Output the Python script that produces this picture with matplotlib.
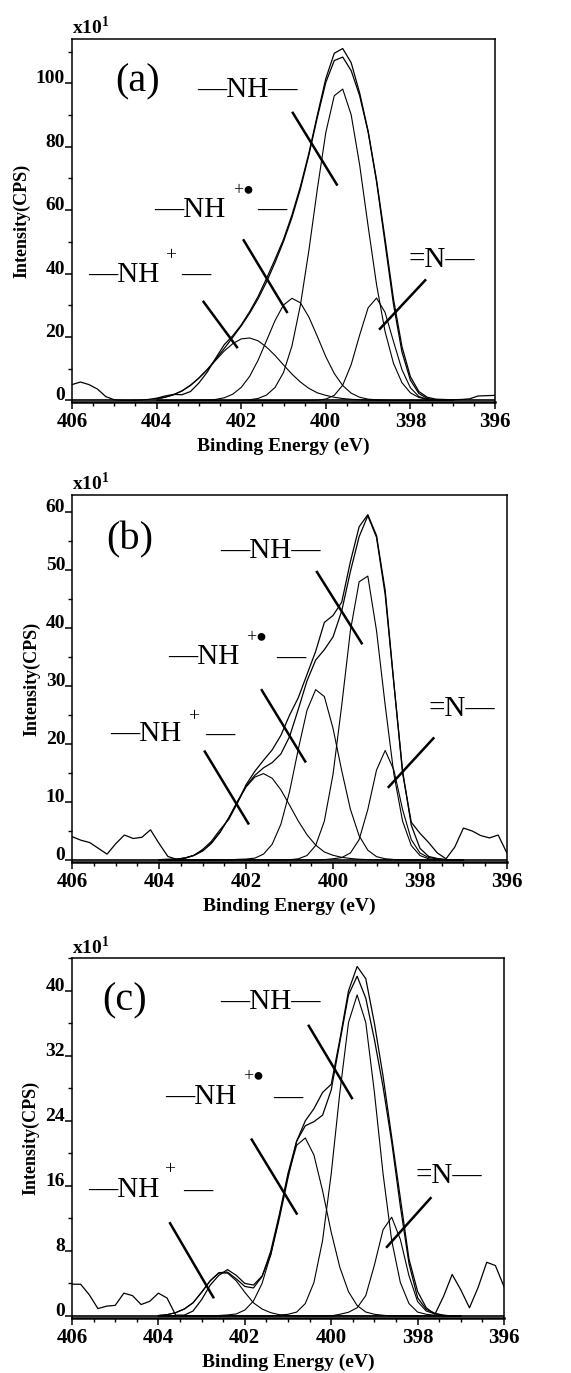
import numpy as np
import matplotlib.pyplot as plt
from matplotlib.ticker import MultipleLocator

plt.rcParams['font.family'] = ['Liberation Serif', 'DejaVu Sans']
plt.rcParams['mathtext.fontset'] = 'custom'
plt.rcParams['mathtext.rm'] = 'Liberation Serif'
plt.rcParams['mathtext.bf'] = 'Liberation Serif:bold'

# binding energy grids (eV)
energy = np.round(np.arange(404.0, 396.9, -0.2), 1)      # fitted curves
energy_raw = np.round(np.arange(406.0, 395.9, -0.2), 1)  # measured spectra

# ---- panel (a) ----
raw_a = [5.0, 5.8, 5.0, 3.6, 1.2, 0.2, 0.0, 0.0, 0.1, 0.3,
         0.7, 1.4, 1.9, 1.8, 2.8, 5.5, 9.0, 13.4, 17.6, 20.4,
         23.8, 28.0, 32.8, 38.5, 44.5, 50.8, 58.5, 67.5, 78.0, 90.0,
         101.5, 109.5, 111.0, 106.5, 97.0, 85.0, 69.5, 51.0, 32.0, 17.0,
         7.5, 2.8, 1.0, 0.4, 0.3, 0.2, 0.3, 0.5, 1.4, 1.5, 1.6]
fit_a = [0.5, 1.0, 1.8, 3.0, 4.8, 7.1, 9.8, 13.0, 16.4, 19.9,
         23.5, 27.5, 32.1, 37.4, 43.5, 50.1, 57.7, 66.7, 77.4, 89.3,
         100.3, 107.2, 108.3, 104.0, 96.1, 84.7, 69.0, 49.7, 30.3, 15.3,
         6.4, 2.2, 0.6, 0.2, 0.05, 0]
nh_plus_a = [0.5, 1.0, 1.8, 3.0, 4.7, 7.0, 9.7, 12.7, 15.6, 17.9,
             19.4, 19.7, 18.8, 16.8, 14.2, 11.2, 8.3, 5.8, 3.8, 2.4,
             1.6, 1.0, 0.6, 0.35, 0.2, 0.1, 0.05, 0, 0, 0,
             0, 0, 0, 0, 0, 0]
nh_rad_a = [0, 0, 0, 0, 0.05, 0.1, 0.15, 0.32, 0.84, 1.96,
            4.1, 7.6, 12.7, 18.9, 25.2, 30.1, 32.2, 30.8, 26.3, 20.2,
            13.8, 8.5, 4.7, 2.3, 1.0, 0.4, 0.2, 0.1, 0, 0,
            0, 0, 0, 0, 0, 0]
nh_a = [0, 0, 0, 0, 0, 0, 0, 0, 0, 0,
        0.06, 0.21, 0.63, 1.7, 4.1, 8.8, 17.2, 30.1, 47.3, 66.7,
        84.5, 96.1, 98.2, 90.1, 74.3, 55.0, 36.5, 21.8, 11.7, 5.6,
        2.4, 0.94, 0.33, 0.1, 0, 0]
imine_a = [0, 0, 0, 0, 0, 0, 0, 0, 0, 0,
           0, 0, 0, 0, 0, 0, 0, 0, 0, 0.08,
           0.42, 1.6, 4.8, 11.3, 20.6, 29.2, 32.3, 27.8, 18.6, 9.7,
           4.0, 1.25, 0.31, 0.06, 0, 0]

# ---- panel (b) ----
raw_b = [4.0, 3.4, 3.0, 2.0, 1.0, 2.8, 4.3, 3.7, 3.9, 5.2,
         2.8, 0.6, 0.1, 0.3, 0.8, 1.8, 3.2, 5.2, 7.0, 9.8,
         13.0, 15.3, 17.2, 19.0, 21.5, 25.0, 28.0, 32.0, 36.0, 41.0,
         42.2, 44.5, 51.5, 57.5, 59.6, 56.0, 46.5, 30.5, 15.0, 6.5,
         4.6, 3.0, 1.2, 0.2, 2.2, 5.5, 5.0, 4.2, 3.8, 4.3, 1.2]
fit_b = [0.05, 0.1, 0.14, 0.35, 0.78, 1.56, 2.87, 4.78, 7.25, 10.1,
         12.75, 14.6, 15.9, 16.8, 18.3, 21.3, 26.0, 30.9, 34.5, 36.3,
         38.5, 43.0, 49.8, 55.8, 59.4, 55.7, 45.8, 30.4, 15.4, 6.0,
         2.0, 0.6, 0.24, 0.05, 0, 0]
nh_plus_b = [0.05, 0.1, 0.14, 0.35, 0.78, 1.56, 2.87, 4.78, 7.25, 10.0,
             12.6, 14.3, 14.9, 14.1, 12.1, 9.45, 6.72, 4.35, 2.56, 1.37,
             0.8, 0.45, 0.25, 0.12, 0.05, 0, 0, 0, 0, 0,
             0, 0, 0, 0, 0, 0]
nh_rad_b = [0, 0, 0, 0, 0, 0, 0, 0, 0, 0.1,
            0.15, 0.31, 1.0, 2.71, 6.17, 11.8, 19.1, 25.8, 29.4, 28.2,
            22.7, 15.4, 8.73, 4.17, 1.68, 0.57, 0.2, 0.08, 0, 0,
            0, 0, 0, 0, 0, 0]
nh_b = [0, 0, 0, 0, 0, 0, 0, 0, 0, 0,
        0, 0, 0, 0, 0, 0.04, 0.19, 0.76, 2.49, 6.7,
        14.8, 26.7, 39.6, 48.0, 49.0, 39.6, 26.7, 14.8, 6.7, 2.49,
        0.76, 0.19, 0.04, 0, 0, 0]
imine_b = [0, 0, 0, 0, 0, 0, 0, 0, 0, 0,
           0, 0, 0, 0, 0, 0, 0, 0, 0, 0.05,
           0.2, 0.4, 1.2, 3.5, 8.7, 15.5, 18.9, 15.5, 8.7, 3.5,
           1.2, 0.4, 0.2, 0.05, 0, 0]

# ---- panel (c) ----
raw_c = [3.9, 3.9, 2.6, 0.9, 1.2, 1.3, 2.8, 2.5, 1.4, 1.8,
         2.8, 2.2, 0.1, 0.1, 0.6, 2.0, 3.8, 5.0, 5.7, 5.0,
         4.0, 3.8, 4.9, 7.5, 12.0, 17.0, 21.5, 24.0, 25.5, 27.5,
         28.5, 34.0, 40.0, 43.0, 41.5, 36.0, 29.5, 22.0, 14.5, 7.0,
         3.0, 1.0, 0.2, 2.4, 5.1, 3.2, 1.0, 3.5, 6.6, 6.2, 3.6]
fit_c = [0.05, 0.15, 0.4, 0.85, 1.61, 2.91, 4.33, 5.32, 5.39, 4.57,
         3.63, 3.44, 4.85, 7.96, 12.5, 17.55, 21.5, 23.4, 23.9, 24.7,
         27.8, 33.7, 39.5, 41.8, 39.1, 34.0, 28.2, 21.4, 13.5, 6.46,
         2.23, 0.8, 0.33, 0.08, 0, 0]
nh_plus_c = [0.05, 0.15, 0.4, 0.85, 1.61, 2.91, 4.33, 5.27, 5.27, 4.33,
             2.91, 1.61, 0.85, 0.4, 0.15, 0.05, 0, 0, 0, 0,
             0, 0, 0, 0, 0, 0, 0, 0, 0, 0,
             0, 0, 0, 0, 0, 0]
nh_rad_c = [0, 0, 0, 0, 0, 0, 0, 0.05, 0.12, 0.24,
            0.72, 1.83, 4.0, 7.56, 12.3, 17.3, 21.0, 21.9, 19.8, 15.4,
            10.3, 5.97, 2.98, 1.28, 0.48, 0.2, 0.08, 0, 0, 0,
            0, 0, 0, 0, 0, 0]
nh_c = [0, 0, 0, 0, 0, 0, 0, 0, 0, 0,
        0, 0, 0, 0, 0.08, 0.2, 0.47, 1.52, 4.11, 9.28,
        17.5, 27.5, 36.1, 39.5, 36.1, 27.5, 17.5, 9.28, 4.11, 1.52,
        0.47, 0.2, 0.08, 0, 0, 0]
imine_c = [0, 0, 0, 0, 0, 0, 0, 0, 0, 0,
           0, 0, 0, 0, 0, 0, 0, 0, 0, 0,
           0, 0.2, 0.45, 1.0, 2.5, 6.26, 10.6, 12.15, 9.42, 4.94,
           1.76, 0.6, 0.25, 0.08, 0, 0]

panels = [
    dict(tag="(a)", raw=raw_a, fit=fit_a, comps=[nh_plus_a, nh_rad_a, nh_a, imine_a],
         rect=[0.1261, 0.7072, 0.7408, 0.2644], ylim=(-0.5, 114), major=20, minor=10, ymax_tick=110,
         tag_xy=(404.46, 100.5),
         nh=(403.05, 97.9), nh_line=((400.78, 399.74), (90.7, 68.1)),
         rad=(404.07, 60.0), rad_sup=(402.18, 66.3), rad_dash=(401.63, 59.8),
         rad_line=((401.94, 400.92), (50.5, 27.9)),
         plus=(405.61, 39.5), plus_sup=(403.80, 45.8), plus_dash=(403.42, 39.2),
         plus_line=((402.89, 402.10), (31.1, 16.8)),
         imine=(398.05, 44.2), imine_line=((397.65, 398.72), (37.9, 22.6))),
    dict(tag="(b)", raw=raw_b, fit=fit_b, comps=[nh_plus_b, nh_rad_b, nh_b, imine_b],
         rect=[0.1266, 0.3720, 0.7611, 0.2675], ylim=(-0.4, 63), major=10, minor=5, ymax_tick=60,
         tag_xy=(404.67, 55.2),
         nh=(402.60, 53.4), nh_line=((400.37, 399.34), (49.7, 37.4)),
         rad=(403.79, 35.1), rad_sup=(401.99, 38.5), rad_dash=(401.30, 34.7),
         rad_line=((401.64, 400.64), (29.3, 17.0)),
         plus=(405.13, 21.8), plus_sup=(403.33, 24.7), plus_dash=(402.95, 21.4),
         plus_line=((402.95, 401.95), (18.7, 6.3)),
         imine=(397.80, 26.1), imine_line=((397.69, 398.72), (21.0, 12.6))),
    dict(tag="(c)", raw=raw_c, fit=fit_c, comps=[nh_plus_c, nh_rad_c, nh_c, imine_c],
         rect=[0.1261, 0.0398, 0.7566, 0.2622], ylim=(-0.3, 44), major=8, minor=4, ymax_tick=40,
         tag_xy=(404.78, 38.8),
         nh=(402.57, 38.6), nh_line=((400.52, 399.52), (35.7, 26.8)),
         rad=(403.85, 27.0), rad_sup=(402.03, 29.5), rad_dash=(401.34, 26.7),
         rad_line=((401.84, 400.80), (21.7, 12.6)),
         plus=(405.63, 15.5), plus_sup=(403.87, 18.0), plus_dash=(403.42, 15.3),
         plus_line=((403.73, 402.73), (11.4, 2.3)),
         imine=(398.05, 17.2), imine_line=((397.70, 398.71), (14.5, 8.5))),
]

fig = plt.figure(figsize=(5.71, 13.73), dpi=100)

for p in panels:
    ax = fig.add_axes(p["rect"])

    # fitted components, envelope and measured spectrum
    for comp in p["comps"]:
        ax.plot(energy, comp, color='k', lw=0.8)
    ax.plot(energy, p["fit"], color='k', lw=0.9)
    ax.plot(energy_raw, p["raw"], color='k', lw=0.9)
    ax.axhline(0, color='k', lw=1.2)

    ax.set_xlim(406, 396)
    ax.set_ylim(*p["ylim"])
    ax.xaxis.set_major_locator(MultipleLocator(2))
    ax.xaxis.set_minor_locator(MultipleLocator(0.5))
    ax.set_yticks(np.arange(0, p["ymax_tick"] + 0.1, p["major"]))
    ax.yaxis.set_minor_locator(MultipleLocator(p["minor"]))
    ax.tick_params(which='major', direction='out', length=5, width=1.1)
    ax.tick_params(which='minor', direction='out', length=3, width=1.0)
    ax.tick_params(axis='x', which='major', labelsize=15, pad=2)
    ax.tick_params(axis='y', which='major', labelsize=14, pad=0)
    ax.tick_params(top=False, right=False, which='both')
    for lab in ax.get_xticklabels():
        lab.set_fontweight('bold')
    for lab in ax.get_yticklabels():
        lab.set_fontweight('bold')
        lab.set_verticalalignment('baseline')
    for s in ax.spines.values():
        s.set_linewidth(1.1)
    ax.spines['bottom'].set_linewidth(1.8)

    ax.set_xlabel("Binding Energy (eV)", fontsize=14, fontweight='bold', labelpad=4)
    ax.set_ylabel("Intensity(CPS)", fontsize=13, fontweight='bold', labelpad=4)
    ax.text(0.0, 1.002, r"x10$^{\mathbf{1}}$", transform=ax.transAxes, ha='left', va='bottom',
            fontsize=14, fontweight='bold')

    # panel tag and peak labels
    ax.text(*p["tag_xy"], p["tag"], fontsize=29, ha='center', va='center')
    ax.text(*p["nh"], "\u2014NH\u2014", fontsize=21, ha='left', va='center')
    ax.text(*p["rad"], "\u2014NH", fontsize=21, ha='left', va='center')
    ax.text(*p["rad_sup"], "+\u25cf", fontsize=13, ha='left', va='center')
    ax.text(*p["rad_dash"], "\u2014", fontsize=21, ha='left', va='center')
    ax.text(*p["plus"], "\u2014NH", fontsize=21, ha='left', va='center')
    ax.text(*p["plus_sup"], "+", fontsize=14, ha='left', va='center')
    ax.text(*p["plus_dash"], "\u2014", fontsize=21, ha='left', va='center')
    ax.text(*p["imine"], "=N\u2014", fontsize=21, ha='left', va='center')
    for key in ("nh_line", "rad_line", "plus_line", "imine_line"):
        xs, ys = p[key]
        ax.plot(xs, ys, color='k', lw=1.8)

fig.savefig("out.png", dpi=100)
